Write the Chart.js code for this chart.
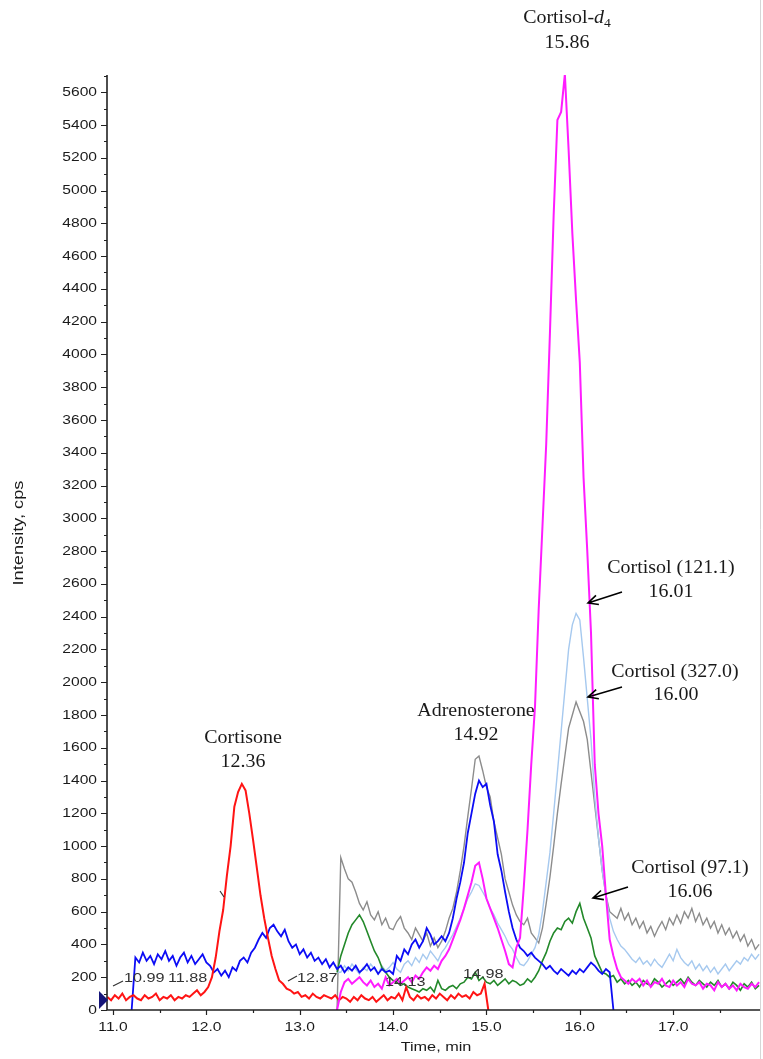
<!DOCTYPE html>
<html>
<head>
<meta charset="utf-8">
<script src="https://cdn.jsdelivr.net/npm/chart.js@4.4.1/dist/chart.umd.min.js"></script>
<style>
  html, body { margin: 0; padding: 0; background: #fff; }
  #wrap { position: relative; width: 763px; height: 1059px; }
</style>
</head>
<body>
<div id="wrap"><canvas id="chromChart"></canvas></div>
<script>
// sampling cycle of the instrument (min)
const STEP = 0.04;

// start time of every trace (min)
const redStart = 10.94;
const blueStart = 11.20;
const lateStart = 13.40; // gray, light blue, green, magenta

// Cortisone (red)
const redValues = [
  80, 60, 90, 70, 100, 60, 80, 90, 70, 60,
  90, 70, 80, 100, 60, 80, 70, 90, 60, 80,
  70, 90, 80, 100, 120, 90, 110, 140, 200, 320,
  480, 610, 820, 1000, 1240, 1330, 1380, 1340, 1200, 1040,
  870, 700, 560, 440, 330, 250, 180, 160, 130, 120,
  100, 110, 80, 90, 70, 100, 80, 70, 90, 80,
  70, 90, 60, 80, 70, 50, 80, 60, 90, 70,
  60, 80, 50, 70, 90, 60, 80, 70, 100, 60,
  140, 80, 60, 90, 70, 80, 60, 90, 70, 100,
  80, 60, 90, 70, 100, 80, 90, 70, 110, 90,
  100, 160, 0
];

// Adrenosterone (blue)
const blueValues = [
  0, 320, 290, 350, 300, 330, 280, 340, 310, 360,
  300, 330, 270, 320, 350, 290, 330, 280, 310, 340,
  290, 270, 230, 250, 210, 240, 200, 260, 240, 300,
  320, 290, 350, 380, 430, 470, 440, 500, 520, 480,
  450, 490, 420, 380, 400, 340, 370, 320, 350, 300,
  320, 280, 310, 260, 290, 250, 270, 230, 260, 240,
  270, 230, 250, 280, 240, 260, 220, 250, 230, 240,
  220, 330, 300, 370, 340, 400, 430, 380, 420, 500,
  460, 400, 420, 450, 420, 470, 560, 680, 780, 900,
  1080, 1200, 1320, 1400, 1360, 1380, 1250, 1150, 950, 850,
  720, 600, 500, 430, 380, 360, 330, 350, 320, 300,
  280, 250, 270, 240, 220, 250, 230, 210, 240, 220,
  250, 230, 260, 290, 270, 240, 220, 250, 230, 0
];

// Cortisol 327.0 (gray)
const grayValues = [
  0, 930, 860, 800, 780, 720, 650, 610, 660, 580,
  550, 600, 520, 560, 500, 490, 540, 570, 500, 470,
  430, 500, 460, 420, 470, 390, 440, 380, 420, 480,
  560, 620, 720, 850, 1000, 1180, 1350, 1530, 1550, 1460,
  1360, 1300, 1150, 1050, 950, 800, 720, 640, 580, 540,
  520, 560, 470, 440, 410, 500, 650, 810, 1000, 1200,
  1380, 1550, 1720, 1800, 1880, 1820, 1760, 1650, 1450, 1250,
  1050, 850, 700, 600, 580, 560, 620, 550, 590, 520,
  560, 500, 540, 470, 510, 450, 500, 540, 490, 560,
  520, 580, 530, 600, 560, 620, 540, 590, 520, 560,
  500, 540, 470, 520, 460, 500, 440, 480, 420, 460,
  390, 430, 370, 400
];

// Cortisol 121.1 (light blue)
const lightBlueValues = [
  230, 230, 270, 240, 280, 250, 220, 260, 240, 280,
  250, 220, 270, 240, 260, 290, 250, 230, 280, 300,
  270, 320, 290, 340, 310, 360, 330, 300, 350, 380,
  420, 460, 510, 560, 620, 680, 720, 770, 760, 720,
  680, 620, 580, 530, 490, 450, 400, 370, 320, 280,
  270, 300, 340, 380, 460, 600, 780, 960, 1200, 1450,
  1700, 1950, 2200, 2350, 2420, 2380, 2150, 1900, 1650, 1300,
  1050, 850, 700, 560, 480, 430, 390, 370, 340, 310,
  290, 320, 280, 300, 270, 310, 280, 260, 300, 340,
  300, 370, 320, 290, 270, 300, 250, 280, 240, 270,
  230, 260, 220, 250, 280, 240, 270, 300, 280, 320,
  300, 340, 310, 340
];

// Cortisol 97.1 (green)
const greenValues = [
  230, 330, 400, 470, 520, 550, 580, 540, 480, 420,
  360, 320, 260, 230, 200, 180, 170, 150, 160, 140,
  130, 120, 110, 130, 120, 140, 110, 180, 130, 120,
  140, 150, 130, 160, 170, 200, 190, 230, 180, 200,
  170, 160, 180, 150, 170, 190, 160, 180, 170, 150,
  160, 190, 170, 200, 240, 300, 350, 420, 470, 500,
  490, 540, 560, 530, 600, 650, 560, 500, 440, 330,
  280, 230, 220, 200, 210, 170, 190, 160, 180, 150,
  170, 140, 180, 160, 150, 190, 170, 140, 160, 180,
  150, 170, 190, 160, 200, 170, 150, 180, 160, 140,
  170, 150, 180, 140, 160, 130, 170, 150, 120, 160,
  140, 170, 130, 150
];

// Cortisol-d4 (magenta)
const magentaValues = [
  0, 110, 170, 190, 160, 180, 200, 170, 150, 180,
  140, 160, 130, 200, 150, 170, 190, 160, 180, 200,
  170, 210, 190, 230, 260, 240, 270, 250, 300, 330,
  370, 430, 490, 550, 620, 700, 780, 880, 900, 800,
  680, 620, 560, 500, 430, 360, 280, 260, 380, 440,
  750, 1100, 1500, 1850, 2450, 2950, 3450, 4130, 4850, 5430,
  5480, 5710, 5250, 4740, 4330, 3950, 3250, 2800, 2300, 1500,
  1200, 1000, 700, 430, 330, 250, 200, 180, 160, 190,
  170, 190, 150, 180, 140, 170, 160, 190, 150, 140,
  180, 150, 170, 140, 190, 160, 150, 170, 130, 160,
  150, 120, 170, 140, 160, 130, 150, 120, 160, 140,
  130, 160, 140, 170
];

// axes
const xMin = 10.936, xMax = 17.93;
const yMin = 0, yMax = 5705;
const xTickValues = [11, 12, 13, 14, 15, 16, 17];
const xTickLabels = ['11.0', '12.0', '13.0', '14.0', '15.0', '16.0', '17.0'];
const yTickValues = [0, 200, 400, 600, 800, 1000, 1200, 1400, 1600, 1800, 2000, 2200, 2400, 2600,
  2800, 3000, 3200, 3400, 3600, 3800, 4000, 4200, 4400, 4600, 4800, 5000, 5200, 5400, 5600];

(() => {
    const ARIAL = '"Liberation Sans", Arial, sans-serif';
    const TIMES = '"Liberation Serif", "Times New Roman", serif';

    function toPoints(start, values) {
        return values.map((v, i) => ({ x: +(start + i * STEP).toFixed(2), y: v }));
    }

    // text drawn a bit wider than the font, like the scanned original
    function stretchText(ctx, text, x, y, font, sx, align, color) {
        ctx.save();
        ctx.translate(x, y);
        ctx.scale(sx, 1);
        ctx.font = font;
        ctx.fillStyle = color || '#1a1a1a';
        ctx.textAlign = align || 'center';
        ctx.textBaseline = 'middle';
        ctx.fillText(text, 0, 0);
        ctx.restore();
    }

    function arrow(ctx, x1, y1, x2, y2) {
        const ang = Math.atan2(y2 - y1, x2 - x1);
        const head = 11;
        ctx.save();
        ctx.strokeStyle = '#000';
        ctx.lineWidth = 1.6;
        ctx.beginPath();
        ctx.moveTo(x1, y1);
        ctx.lineTo(x2, y2);
        ctx.moveTo(x2 - head * Math.cos(ang - 0.45), y2 - head * Math.sin(ang - 0.45));
        ctx.lineTo(x2, y2);
        ctx.lineTo(x2 - head * Math.cos(ang + 0.45), y2 - head * Math.sin(ang + 0.45));
        ctx.stroke();
        ctx.restore();
    }

    function leader(ctx, x1, y1, x2, y2) {
        ctx.save();
        ctx.strokeStyle = '#333';
        ctx.lineWidth = 1.2;
        ctx.beginPath();
        ctx.moveTo(x1, y1);
        ctx.lineTo(x2, y2);
        ctx.stroke();
        ctx.restore();
    }

    const axesPlugin = {
        id: 'chromAxes',
        afterDraw(chart) {
            const { ctx, chartArea: a, scales: { x, y } } = chart;
            ctx.save();

            // faint frame edge on the right
            ctx.strokeStyle = '#d6d6d6';
            ctx.lineWidth = 1;
            ctx.beginPath();
            ctx.moveTo(760.5, 0);
            ctx.lineTo(760.5, 1059);
            ctx.stroke();

            // axis lines
            ctx.strokeStyle = '#222';
            ctx.lineWidth = 1.6;
            ctx.beginPath();
            ctx.moveTo(a.left, a.top);
            ctx.lineTo(a.left, a.bottom);
            ctx.lineTo(a.right, a.bottom);
            ctx.stroke();

            // y ticks (major every 200, minor every 100)
            ctx.lineWidth = 1.2;
            ctx.beginPath();
            yTickValues.forEach(v => {
                const py = Math.round(y.getPixelForValue(v)) + 0.5;
                ctx.moveTo(a.left - 6, py); ctx.lineTo(a.left, py);
                if (v + 100 < yMax) {
                    const pm = Math.round(y.getPixelForValue(v + 100)) + 0.5;
                    ctx.moveTo(a.left - 3, pm); ctx.lineTo(a.left, pm);
                }
            });
            // x ticks (major every 1, minor every 0.5)
            xTickValues.forEach(v => {
                const px = Math.round(x.getPixelForValue(v)) + 0.5;
                ctx.moveTo(px, a.bottom); ctx.lineTo(px, a.bottom + 5);
                if (v + 0.5 < xMax) {
                    const pm = Math.round(x.getPixelForValue(v + 0.5)) + 0.5;
                    ctx.moveTo(pm, a.bottom); ctx.lineTo(pm, a.bottom + 3);
                }
            });
            ctx.stroke();

            yTickValues.forEach(v => {
                stretchText(ctx, String(v), a.left - 10, y.getPixelForValue(v), `13px ${ARIAL}`, 1.2, 'right');
            });
            xTickValues.forEach((v, i) => {
                stretchText(ctx, xTickLabels[i], x.getPixelForValue(v), a.bottom + 17, `13px ${ARIAL}`, 1.2, 'center');
            });

            // axis titles
            stretchText(ctx, 'Time, min', 436, 1047, `13px ${ARIAL}`, 1.25, 'center');
            ctx.save();
            ctx.translate(19, 533);
            ctx.rotate(-Math.PI / 2);
            stretchText(ctx, 'Intensity, cps', 0, 0, `14px ${ARIAL}`, 1.3, 'center');
            ctx.restore();

            // start-of-range marker on the y axis
            ctx.fillStyle = '#15157a';
            ctx.beginPath();
            ctx.moveTo(99, 991);
            ctx.lineTo(108, 1000);
            ctx.lineTo(99, 1009);
            ctx.closePath();
            ctx.fill();

            // small software peak labels
            const small = `12px ${ARIAL}`;
            leader(ctx, 113, 986, 123, 981);
            stretchText(ctx, '10.99', 124, 979, small, 1.35, 'left', '#333');
            stretchText(ctx, '11.88', 168, 979, small, 1.35, 'left', '#333');
            leader(ctx, 288, 981, 297, 976);
            stretchText(ctx, '12.87', 297, 979, small, 1.35, 'left', '#333');
            stretchText(ctx, '14.13', 385, 983, small, 1.35, 'left', '#333');
            stretchText(ctx, '14.98', 463, 975, small, 1.35, 'left', '#333');
            leader(ctx, 220, 891, 224, 897);

            // peak annotations
            const big = `19px ${TIMES}`;
            stretchText(ctx, 'Cortisone', 243, 738, big, 1.05);
            stretchText(ctx, '12.36', 243, 762, big, 1.05);
            stretchText(ctx, 'Adrenosterone', 476, 711, big, 1.05);
            stretchText(ctx, '14.92', 476, 735, big, 1.05);
            stretchText(ctx, 'Cortisol (121.1)', 671, 568, big, 1.05);
            stretchText(ctx, '16.01', 671, 592, big, 1.05);
            stretchText(ctx, 'Cortisol (327.0)', 675, 672, big, 1.05);
            stretchText(ctx, '16.00', 676, 695, big, 1.05);
            stretchText(ctx, 'Cortisol (97.1)', 690, 868, big, 1.05);
            stretchText(ctx, '16.06', 690, 892, big, 1.05);
            arrow(ctx, 622, 592, 588, 603);
            arrow(ctx, 622, 687, 588, 697);
            arrow(ctx, 628, 887, 593, 898);

            // Cortisol-d4 with italic d and subscript 4
            ctx.font = big;
            const w1 = ctx.measureText('Cortisol-').width;
            ctx.font = `italic 19px ${TIMES}`;
            const w2 = ctx.measureText('d').width;
            ctx.font = `13px ${TIMES}`;
            const w3 = ctx.measureText('4').width;
            const sx = 1.05;
            let left = 567 - (w1 + w2 + w3) * sx / 2;
            stretchText(ctx, 'Cortisol-', left, 18, big, sx, 'left');
            left += w1 * sx;
            stretchText(ctx, 'd', left, 18, `italic 19px ${TIMES}`, sx, 'left');
            left += w2 * sx;
            stretchText(ctx, '4', left, 24, `13px ${TIMES}`, sx, 'left');
            stretchText(ctx, '15.86', 567, 43, big, 1.05);

            ctx.restore();
        }
    };

    function trace(points, color, width) {
        return {
            data: points,
            borderColor: color,
            borderWidth: width,
            pointRadius: 0,
            tension: 0,
            fill: false
        };
    }

    // first dataset ends up on top
    const datasets = [
        trace(toPoints(lateStart, magentaValues), '#ff1cff', 2),
        trace(toPoints(redStart, redValues), '#ff1414', 2),
        trace(toPoints(blueStart, blueValues), '#0c0cf5', 1.8),
        trace(toPoints(lateStart, greenValues), '#23892a', 1.6),
        trace(toPoints(lateStart, lightBlueValues), '#a6c9ef', 1.4),
        trace(toPoints(lateStart, grayValues), '#8c8c8c', 1.4)
    ];

    new Chart(document.getElementById('chromChart'), {
        type: 'line',
        data: { datasets },
        options: {
            responsive: true,
            maintainAspectRatio: false,
            animation: false,
            layout: { padding: { top: 75, right: 3, left: 0, bottom: 0 } },
            plugins: { legend: { display: false }, tooltip: { enabled: false } },
            scales: {
                x: {
                    type: 'linear', min: xMin, max: xMax,
                    ticks: { display: false }, grid: { display: false }, border: { display: false },
                    afterFit: s => { s.height = 49; }
                },
                y: {
                    min: yMin, max: yMax,
                    ticks: { display: false }, grid: { display: false }, border: { display: false },
                    afterFit: s => { s.width = 107; }
                }
            }
        },
        plugins: [axesPlugin]
    });
})();
</script>
</body>
</html>
